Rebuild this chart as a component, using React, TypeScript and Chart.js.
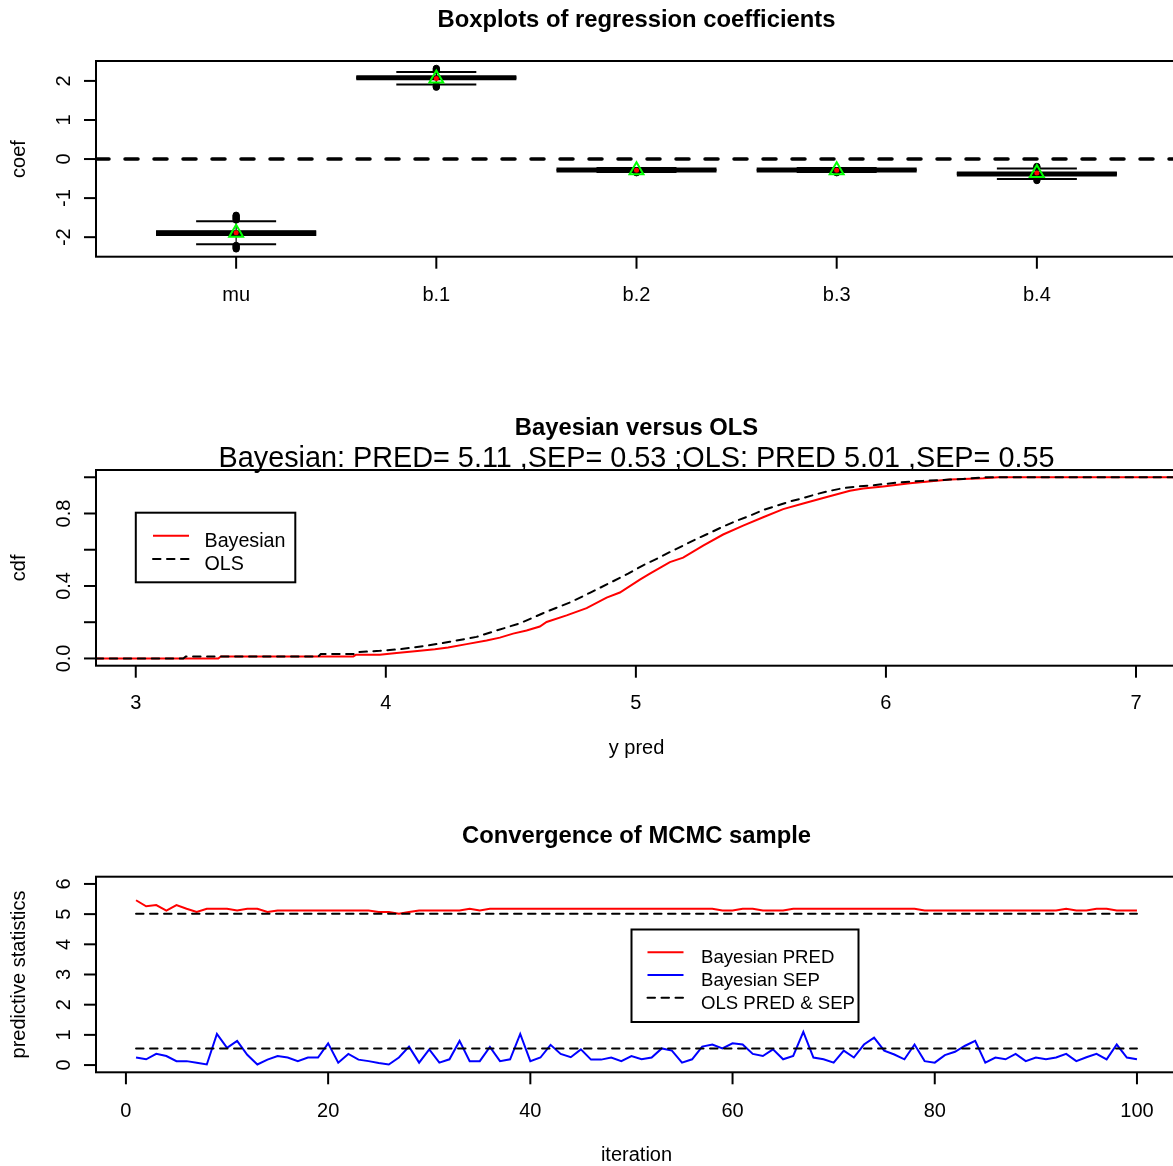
import React, { useEffect, useRef } from 'react';
import { Chart, registerables } from 'chart.js';

Chart.register(...registerables);

const FONT = '"Liberation Sans", Arial, Helvetica, sans-serif';
const PAGE_W = 1173;
const PAGE_H = 1166;
const CANVAS_W = 1180;

// ---------------- Panel 1: boxplots of regression coefficients ----------------
const coefNames = ['mu', 'b.1', 'b.2', 'b.3', 'b.4'];
const coefPos = [1, 2, 3, 4, 5];
const coefQ1 = [-1.97, 2.04, -0.3, -0.3, -0.41];
const coefQ3 = [-1.82, 2.12, -0.26, -0.26, -0.34];
const coefMedian = [-1.9, 2.08, -0.28, -0.28, -0.38];
const coefWhiskerLow = [-2.18, 1.91, -0.33, -0.33, -0.51];
const coefWhiskerHigh = [-1.59, 2.23, -0.23, -0.23, -0.24];
const coefMean = [-1.89, 2.06, -0.29, -0.29, -0.36];
const coefOutliers = [
  [-1.44, -1.47, -1.5, -1.53, -1.56, -2.21, -2.24, -2.27, -2.3],
  [2.26, 2.29, 2.32, 1.89, 1.86, 1.84],
  [-0.35],
  [-0.35],
  [-0.19, -0.22, -0.55],
];
const coefYTicks = [-2, -1, 0, 1, 2];
const coefRefLine = 0;

// ---------------- Panel 2: Bayesian versus OLS cdf ----------------
const cdfSubtitle = 'Bayesian: PRED= 5.11 ,SEP= 0.53 ;OLS: PRED 5.01 ,SEP= 0.55';
const bayesX = [2.84, 3.33, 3.34, 3.87, 3.88, 3.976, 4.043, 4.116, 4.196, 4.249, 4.323, 4.403, 4.456, 4.509, 4.563, 4.616, 4.643, 4.723, 4.803, 4.883, 4.936, 5.016, 5.056, 5.136, 5.189, 5.269, 5.349, 5.429, 5.509, 5.589, 5.669, 5.749, 5.856, 5.909, 5.989, 6.096, 6.149, 6.256, 6.389, 6.45, 7.2];
const bayesCdf = [0, 0, 0.011, 0.011, 0.02, 0.02, 0.03, 0.04, 0.051, 0.06, 0.079, 0.099, 0.115, 0.137, 0.154, 0.176, 0.201, 0.238, 0.278, 0.336, 0.364, 0.435, 0.468, 0.532, 0.556, 0.623, 0.684, 0.733, 0.779, 0.824, 0.855, 0.885, 0.925, 0.938, 0.949, 0.967, 0.974, 0.987, 0.994, 1.0, 1.0];
const olsX = [2.84, 3.19, 3.2, 3.73, 3.74, 3.88, 3.89, 3.976, 4.056, 4.163, 4.256, 4.363, 4.443, 4.536, 4.643, 4.736, 4.816, 4.896, 4.969, 5.029, 5.083, 5.136, 5.189, 5.243, 5.296, 5.349, 5.403, 5.456, 5.509, 5.563, 5.616, 5.669, 5.723, 5.776, 5.829, 5.883, 5.936, 5.989, 6.043, 6.096, 6.149, 6.256, 6.309, 6.4, 7.2];
const olsCdf = [0, 0, 0.011, 0.011, 0.024, 0.024, 0.035, 0.042, 0.051, 0.07, 0.092, 0.119, 0.154, 0.194, 0.258, 0.309, 0.362, 0.417, 0.468, 0.514, 0.55, 0.587, 0.623, 0.66, 0.693, 0.728, 0.76, 0.788, 0.819, 0.843, 0.866, 0.885, 0.907, 0.925, 0.94, 0.949, 0.954, 0.962, 0.97, 0.976, 0.98, 0.987, 0.991, 1.0, 1.0];
const cdfXTicks = [3, 4, 5, 6, 7];
const cdfYTicks = [0, 0.2, 0.4, 0.6, 0.8, 1.0];
const cdfYLabels = ['0.0', '', '0.4', '', '0.8', ''];

// ---------------- Panel 3: convergence of MCMC sample ----------------
const iterations = Array.from({ length: 100 }, (_, i) => i + 1);
const bayesPred = [
  5.46, 5.26, 5.3, 5.12, 5.3, 5.18, 5.07, 5.18, 5.18, 5.18,
  5.12, 5.18, 5.18, 5.07, 5.12, 5.12, 5.12, 5.12, 5.12, 5.12,
  5.12, 5.12, 5.12, 5.12, 5.07, 5.07, 5.01, 5.07, 5.12, 5.12,
  5.12, 5.12, 5.12, 5.18, 5.12, 5.18, 5.18, 5.18, 5.18, 5.18,
  5.18, 5.18, 5.18, 5.18, 5.18, 5.18, 5.18, 5.18, 5.18, 5.18,
  5.18, 5.18, 5.18, 5.18, 5.18, 5.18, 5.18, 5.18, 5.12, 5.12,
  5.18, 5.18, 5.12, 5.12, 5.12, 5.18, 5.18, 5.18, 5.18, 5.18,
  5.18, 5.18, 5.18, 5.18, 5.18, 5.18, 5.18, 5.18, 5.12, 5.12,
  5.12, 5.12, 5.12, 5.12, 5.12, 5.12, 5.12, 5.12, 5.12, 5.12,
  5.12, 5.12, 5.18, 5.12, 5.12, 5.18, 5.18, 5.12, 5.12, 5.12,
];
const bayesSep = [
  0.25, 0.19, 0.37, 0.3, 0.13, 0.13, 0.08, 0.02, 1.03, 0.57,
  0.8, 0.34, 0.02, 0.18, 0.3, 0.25, 0.13, 0.25, 0.25, 0.72,
  0.08, 0.37, 0.18, 0.13, 0.07, 0.02, 0.25, 0.61, 0.08, 0.52,
  0.08, 0.19, 0.8, 0.13, 0.13, 0.6, 0.13, 0.19, 1.03, 0.13,
  0.25, 0.67, 0.37, 0.26, 0.52, 0.18, 0.18, 0.25, 0.13, 0.3,
  0.19, 0.25, 0.55, 0.48, 0.08, 0.19, 0.61, 0.68, 0.55, 0.72,
  0.68, 0.37, 0.3, 0.52, 0.19, 0.3, 1.1, 0.25, 0.19, 0.08,
  0.48, 0.25, 0.68, 0.91, 0.48, 0.35, 0.19, 0.68, 0.13, 0.08,
  0.33, 0.44, 0.64, 0.8, 0.08, 0.25, 0.19, 0.37, 0.13, 0.25,
  0.19, 0.25, 0.37, 0.13, 0.26, 0.37, 0.19, 0.68, 0.25, 0.19,
];
const olsPred = 5.01;
const olsSep = 0.55;
const traceXTicks = [0, 20, 40, 60, 80, 100];
const traceYTicks = [0, 1, 2, 3, 4, 5, 6];

// ---------------- R-style axes / text plugin ----------------
const TICK_LEN = 12;
const TICK_FONT = 20;
const TITLE_FONT = 23.8;
const DASH = [7.5, 6.5];

function makeRPlugin(spec: any) {
  return {
    id: 'rStyle',
    afterDraw(chart: any) {
      const ctx = chart.ctx as CanvasRenderingContext2D;
      const a = chart.chartArea;
      const xs = chart.scales.x;
      const ys = chart.scales.y;
      ctx.save();
      ctx.setLineDash([]);
      ctx.strokeStyle = '#000';
      ctx.fillStyle = '#000';
      ctx.lineWidth = 2;
      ctx.lineCap = 'butt';
      ctx.strokeRect(a.left, a.top, a.right - a.left, a.bottom - a.top);
      ctx.font = `${TICK_FONT}px ${FONT}`;
      ctx.textAlign = 'center';
      ctx.textBaseline = 'alphabetic';
      spec.xTicks.forEach((v: number, i: number) => {
        const px = xs.getPixelForValue(v);
        ctx.beginPath();
        ctx.moveTo(px, a.bottom);
        ctx.lineTo(px, a.bottom + TICK_LEN);
        ctx.stroke();
        const lab = spec.xLabels[i];
        if (lab) ctx.fillText(lab, px, a.bottom + spec.xLabelDy);
      });
      spec.yTicks.forEach((v: number, i: number) => {
        const py = ys.getPixelForValue(v);
        ctx.beginPath();
        ctx.moveTo(a.left - TICK_LEN, py);
        ctx.lineTo(a.left, py);
        ctx.stroke();
        const lab = spec.yLabels[i];
        if (lab) {
          ctx.save();
          ctx.translate(spec.yLabelX, py);
          ctx.rotate(-Math.PI / 2);
          ctx.fillText(lab, 0, 0);
          ctx.restore();
        }
      });
      spec.texts.forEach((t: any) => {
        ctx.font = `${t.bold ? 'bold ' : ''}${t.size}px ${FONT}`;
        ctx.textAlign = 'center';
        if (t.rotate) {
          ctx.save();
          ctx.translate(t.x, t.y);
          ctx.rotate(-Math.PI / 2);
          ctx.fillText(t.text, 0, 0);
          ctx.restore();
        } else {
          ctx.fillText(t.text, t.x, t.y);
        }
      });
      const L = spec.legend;
      if (L) {
        ctx.fillStyle = '#fff';
        ctx.fillRect(L.x, L.y, L.w, L.h);
        ctx.strokeStyle = '#000';
        ctx.lineWidth = 2;
        ctx.strokeRect(L.x, L.y, L.w, L.h);
        ctx.font = `${L.size}px ${FONT}`;
        ctx.textAlign = 'left';
        L.rows.forEach((r: any) => {
          ctx.strokeStyle = r.color;
          ctx.lineWidth = 2;
          ctx.setLineDash(r.dash);
          ctx.lineCap = r.dash.length ? 'round' : 'butt';
          ctx.beginPath();
          ctx.moveTo(L.lineX0, r.lineY);
          ctx.lineTo(L.lineX1, r.lineY);
          ctx.stroke();
          ctx.setLineDash([]);
          ctx.fillStyle = '#000';
          ctx.fillText(r.label, L.textX, r.textY);
        });
      }
      ctx.restore();
    },
  };
}

function baseOptions(padding: any, x: any, y: any) {
  return {
    responsive: false,
    maintainAspectRatio: false,
    animation: false,
    devicePixelRatio: 1,
    events: [],
    layout: { padding, autoPadding: false },
    plugins: { legend: { display: false }, tooltip: { enabled: false }, title: { display: false } },
    scales: {
      x: { type: 'linear', display: false, offset: false, ...x },
      y: { type: 'linear', display: false, offset: false, ...y },
    },
  };
}

function makeCoefConfig() {
  const plugin = makeRPlugin({
    xTicks: coefPos,
    xLabels: coefNames,
    xLabelDy: 44,
    yTicks: coefYTicks,
    yLabels: coefYTicks.map(String),
    yLabelX: 70,
    texts: [
      { text: 'Boxplots of regression coefficients', x: 636.5, y: 27, size: TITLE_FONT, bold: true },
      { text: 'coef', x: 25, y: 159, size: 20, rotate: true },
    ],
  });
  const outlierPts: any[] = [];
  coefOutliers.forEach((vals, i) => vals.forEach((v) => outlierPts.push({ x: coefPos[i], y: v })));
  const capPts: any[] = [];
  coefPos.forEach((p, i) => {
    capPts.push({ x: p, y: coefWhiskerLow[i] });
    capPts.push({ x: p, y: coefWhiskerHigh[i] });
  });
  return {
    type: 'scatter',
    data: {
      datasets: [
        {
          type: 'line',
          data: [{ x: 0.3, y: coefRefLine }, { x: 5.7, y: coefRefLine }],
          borderColor: '#000',
          borderWidth: 3.5,
          borderDash: [13, 16],
          borderCapStyle: 'round',
          pointRadius: 0,
          order: -1,
        },
        {
          type: 'scatter',
          data: coefPos.map((p, i) => ({ x: p, y: coefMean[i] })),
          pointStyle: 'triangle',
          pointRadius: 8,
          pointBorderColor: '#00ff00',
          pointBorderWidth: 2,
          pointBackgroundColor: 'rgba(0,0,0,0)',
          order: 0,
        },
        {
          type: 'scatter',
          data: coefPos.map((p, i) => ({ x: p, y: coefMean[i] })),
          pointStyle: 'circle',
          pointRadius: 2.5,
          pointBorderWidth: 0,
          pointBackgroundColor: '#ff0000',
          order: 1,
        },
        {
          type: 'scatter',
          data: outlierPts,
          pointStyle: 'circle',
          pointRadius: 3.2,
          pointBorderWidth: 1,
          pointBorderColor: '#000',
          pointBackgroundColor: '#000',
          order: 2,
        },
        {
          type: 'scatter',
          data: capPts,
          pointStyle: 'line',
          pointRadius: 40,
          pointBorderWidth: 2,
          pointBorderColor: '#000',
          order: 3,
        },
        {
          type: 'scatter',
          data: coefPos.map((p, i) => ({ x: p, y: coefMedian[i] })),
          pointStyle: 'line',
          pointRadius: 80,
          pointBorderWidth: 5,
          pointBorderColor: '#000',
          order: 4,
        },
        {
          type: 'bar',
          data: coefPos.map((p, i) => ({ x: p, y: [coefQ1[i], coefQ3[i]] })),
          backgroundColor: '#000',
          borderColor: '#000',
          borderWidth: 0,
          grouped: false,
          categoryPercentage: 0.8,
          barPercentage: 1,
          order: 5,
        },
        {
          type: 'bar',
          data: coefPos.map((p, i) => ({ x: p, y: [coefWhiskerLow[i], coefWhiskerHigh[i]] })),
          backgroundColor: '#000',
          borderWidth: 0,
          grouped: false,
          maxBarThickness: 1.2,
          order: 6,
        },
      ],
    },
    options: baseOptions(
      { left: 96, right: CANVAS_W - 1177, top: 61, bottom: 330 - 256.7 },
      {
        min: 0.3,
        max: 5.7,
        afterBuildTicks: (s: any) => {
          s.ticks = coefPos.map((v) => ({ value: v }));
        },
      },
      { min: -2.5, max: 2.51 }
    ),
    plugins: [plugin],
  };
}

function makeCdfConfig() {
  const plugin = makeRPlugin({
    xTicks: cdfXTicks,
    xLabels: cdfXTicks.map(String),
    xLabelDy: 43,
    yTicks: cdfYTicks,
    yLabels: cdfYLabels,
    yLabelX: 70,
    texts: [
      { text: 'Bayesian versus OLS', x: 636.5, y: 44.5, size: TITLE_FONT, bold: true },
      { text: cdfSubtitle, x: 636.5, y: 77, size: 28.8 },
      { text: 'y pred', x: 636.5, y: 364.4, size: 20 },
      { text: 'cdf', x: 25, y: 177.9, size: 20, rotate: true },
    ],
    legend: {
      x: 135.8, y: 122.7, w: 159.5, h: 69.6, lineX0: 153, lineX1: 189, textX: 204.5, size: 19.7,
      rows: [
        { label: 'Bayesian', color: '#ff0000', dash: [], lineY: 145.7, textY: 157.3 },
        { label: 'OLS', color: '#000', dash: DASH, lineY: 169, textY: 180 },
      ],
    },
  });
  return {
    type: 'scatter',
    data: {
      datasets: [
        {
          type: 'line',
          label: 'OLS',
          data: olsX.map((x, i) => ({ x, y: olsCdf[i] })),
          borderColor: '#000',
          borderWidth: 2,
          borderDash: DASH,
          borderCapStyle: 'round',
          pointRadius: 0,
          order: 0,
        },
        {
          type: 'line',
          label: 'Bayesian',
          data: bayesX.map((x, i) => ({ x, y: bayesCdf[i] })),
          borderColor: '#ff0000',
          borderWidth: 2,
          pointRadius: 0,
          order: 1,
        },
      ],
    },
    options: baseOptions(
      { left: 96, right: CANVAS_W - 1177, top: 80, bottom: 390 - 275.7 },
      { min: 2.841, max: 7.164 },
      { min: -0.04, max: 1.04 }
    ),
    plugins: [plugin],
  };
}

function makeTraceConfig() {
  const plugin = makeRPlugin({
    xTicks: traceXTicks,
    xLabels: traceXTicks.map(String),
    xLabelDy: 44.7,
    yTicks: traceYTicks,
    yLabels: traceYTicks.map(String),
    yLabelX: 70,
    texts: [
      { text: 'Convergence of MCMC sample', x: 636.5, y: 62.5, size: TITLE_FONT, bold: true },
      { text: 'iteration', x: 636.5, y: 381, size: 20 },
      { text: 'predictive statistics', x: 25, y: 194.5, size: 20, rotate: true },
    ],
    legend: {
      x: 631.5, y: 149.5, w: 227, h: 92.5, lineX0: 647.5, lineX1: 683.5, textX: 701, size: 18.6,
      rows: [
        { label: 'Bayesian PRED', color: '#ff0000', dash: [], lineY: 172.3, textY: 182.7 },
        { label: 'Bayesian SEP', color: '#0000ff', dash: [], lineY: 195, textY: 205.7 },
        { label: 'OLS PRED & SEP', color: '#000', dash: DASH, lineY: 217.7, textY: 228.5 },
      ],
    },
  });
  const first = iterations[0];
  const last = iterations[iterations.length - 1];
  return {
    type: 'scatter',
    data: {
      datasets: [
        {
          type: 'line',
          data: [{ x: first, y: olsPred }, { x: last, y: olsPred }],
          borderColor: '#000', borderWidth: 2, borderDash: DASH, borderCapStyle: 'round', pointRadius: 0, order: 0,
        },
        {
          type: 'line',
          data: [{ x: first, y: olsSep }, { x: last, y: olsSep }],
          borderColor: '#000', borderWidth: 2, borderDash: DASH, borderCapStyle: 'round', pointRadius: 0, order: 1,
        },
        {
          type: 'line',
          data: iterations.map((x, i) => ({ x, y: bayesSep[i] })),
          borderColor: '#0000ff', borderWidth: 2, pointRadius: 0, order: 2,
        },
        {
          type: 'line',
          data: iterations.map((x, i) => ({ x, y: bayesPred[i] })),
          borderColor: '#ff0000', borderWidth: 2, pointRadius: 0, order: 3,
        },
      ],
    },
    options: baseOptions(
      { left: 96, right: CANVAS_W - 1177, top: 96.7, bottom: 386 - 292.3 },
      { min: -2.96, max: 103.96 },
      { min: -0.24, max: 6.24 }
    ),
    plugins: [plugin],
  };
}

function PanelCanvas({ top, height, make }: { top: number; height: number; make: () => any }) {
  const ref = useRef<HTMLCanvasElement | null>(null);
  useEffect(() => {
    if (!ref.current) return;
    const chart = new Chart(ref.current, make());
    return () => chart.destroy();
  }, []);
  return (
    <canvas
      ref={ref}
      width={CANVAS_W}
      height={height}
      style={{ position: 'absolute', left: 0, top, width: CANVAS_W, height }}
    />
  );
}

export default function App() {
  return (
    <div
      style={{
        position: 'fixed',
        left: 0,
        top: 0,
        width: PAGE_W,
        height: PAGE_H,
        overflow: 'hidden',
        background: '#fff',
      }}
    >
      <PanelCanvas top={0} height={330} make={makeCoefConfig} />
      <PanelCanvas top={390} height={390} make={makeCdfConfig} />
      <PanelCanvas top={780} height={386} make={makeTraceConfig} />
    </div>
  );
}
